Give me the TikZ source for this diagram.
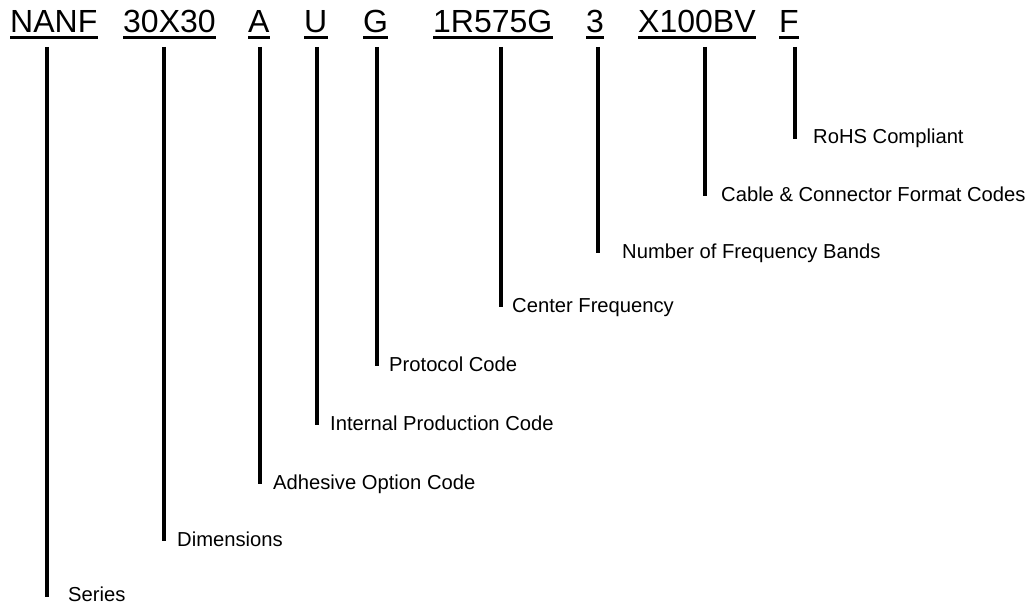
\documentclass[tikz,border=0pt]{standalone}
\usepackage{fontspec}
\setmainfont{Liberation Sans}
\begin{document}
\begin{tikzpicture}[x=1pt,y=-1pt,
  code/.style={inner sep=0pt,anchor=base west,font=\fontsize{32}{38}\selectfont},
  lab/.style={inner sep=0pt,anchor=base west,font=\fontsize{20.2}{24}\selectfont},
  uline/.style={line width=2.8pt},
  tick/.style={line width=3.2pt}]
\useasboundingbox (0,0) rectangle (1035,604);
% codes
\node[code] (c1) at (10,33) {NANF};
\node[code] (c2) at (123,33) {30X30};
\node[code] (c3) at (248,33) {A};
\node[code] (c4) at (304,33) {U};
\node[code] (c5) at (363,33) {G};
\node[code] (c6) at (433,33) {1R575G};
\node[code] (c7) at (586,33) {3};
\node[code] (c8) at (638,33) {X100BV};
\node[code] (c9) at (779,33) {F};
\foreach \i in {1,...,9}{
  \draw[uline] ([yshift=-4.5]c\i.base west) -- ([yshift=-4.5]c\i.base east);
}
% tops and bottoms
\coordinate (t1) at (47,47);  \coordinate (b1) at (47,597);
\coordinate (t2) at (164,47); \coordinate (b2) at (164,541);
\coordinate (t3) at (260,47); \coordinate (b3) at (260,484);
\coordinate (t4) at (317,47); \coordinate (b4) at (317,425);
\coordinate (t5) at (377,47); \coordinate (b5) at (377,366);
\coordinate (t6) at (501,47); \coordinate (b6) at (501,307);
\coordinate (t7) at (598,47); \coordinate (b7) at (598,253);
\coordinate (t8) at (705,47); \coordinate (b8) at (705,196);
\coordinate (t9) at (795,47); \coordinate (b9) at (795,139);
% labels
\node[lab] (l1) at (68,601) {Series};
\node[lab] (l2) at (177,546) {Dimensions};
\node[lab] (l3) at (273,489) {Adhesive Option Code};
\node[lab] (l4) at (330,430) {Internal Production Code};
\node[lab] (l5) at (389,371) {Protocol Code};
\node[lab] (l6) at (512,312) {Center Frequency};
\node[lab] (l7) at (622,258) {Number of Frequency Bands};
\node[lab] (l8) at (721,201) {Cable \& Connector Format Codes};
\node[lab] (l9) at (813,144) {RoHS Compliant};
\foreach \i in {1,...,9}{
  \draw[tick] (t\i) -- (b\i);
}
\end{tikzpicture}
\end{document}
